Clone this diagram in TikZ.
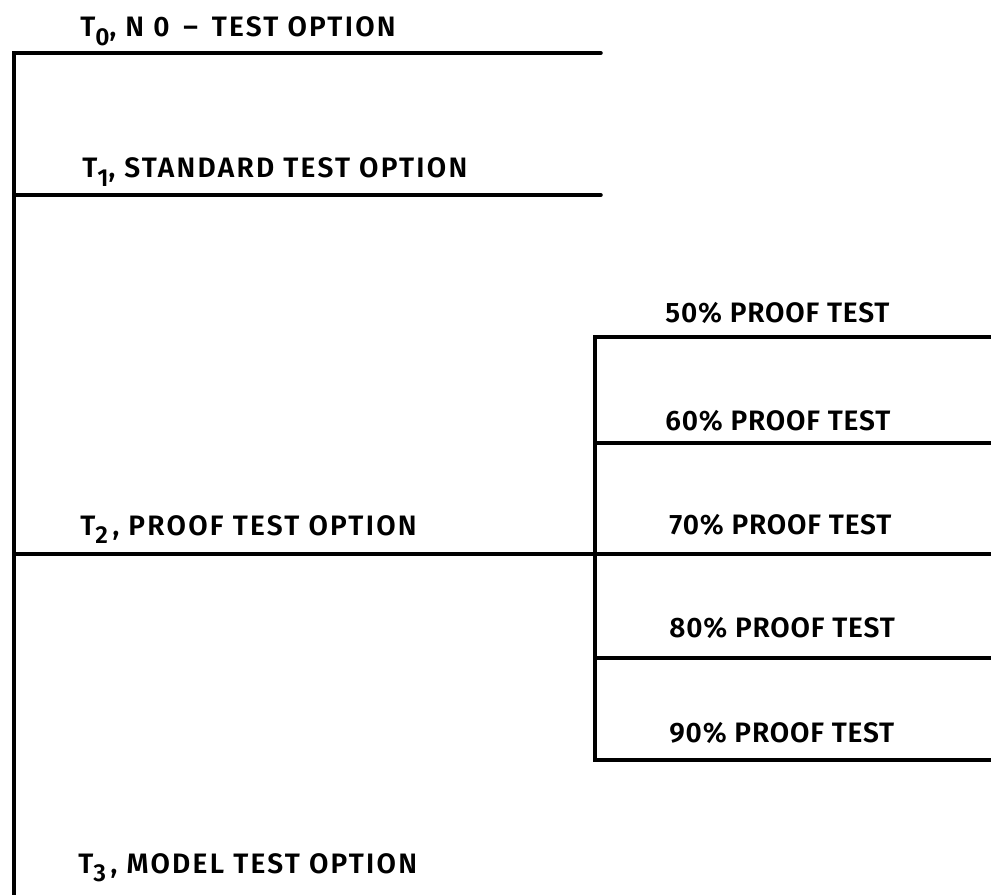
\documentclass[tikz,border=0pt]{standalone}
\usepackage{fontspec}
\setmainfont{Fira Sans}[BoldFont={Fira Sans SemiBold}]
\usetikzlibrary{positioning}

\newcommand{\Tsub}[1]{T\raisebox{-5pt}{\fontsize{14}{14}\selectfont #1}}

\begin{document}
\begin{tikzpicture}[x=0.02cm, y=-0.02cm, font=\fontsize{16}{18}\selectfont\bfseries,
  rule/.style={line width=2pt, line cap=round},
  optlabel/.style={anchor=base west, inner sep=0pt, font=\fontsize{16}{18}\selectfont\bfseries\addfontfeature{LetterSpace=8}},
  prooflabel/.style={anchor=base west, inner sep=0pt, font=\fontsize{16}{18}\selectfont\bfseries\addfontfeature{LetterSpace=3}}]

\useasboundingbox (0,0) rectangle (991,895);

% option spine
\path
(14,53) coordinate (spine-top)
(14,895) coordinate (spine-bot)
(601,53) coordinate (T0-R)
(601,195) coordinate (T1-R)
(14,195) coordinate (T1-L)
(14,554) coordinate (T2-L)
(991,554) coordinate (T2-R)
;
\draw[rule] (spine-bot) -- (spine-top) -- (T0-R);
\draw[rule] (T1-L) -- (T1-R);
\draw[rule] (T2-L) -- (T2-R);

% proof test sub-options
\path
(595,337) coordinate (P-top)
(595,760) coordinate (P-bot)
(991,337) coordinate (P50-R)
(991,760) coordinate (P90-R)
(595,443) coordinate (P60-L) (991,443) coordinate (P60-R)
(595,658) coordinate (P80-L) (991,658) coordinate (P80-R)
;
\draw[rule] (P50-R) -- (P-top) -- (P-bot) -- (P90-R);
\draw[rule] (P60-L) -- (P60-R);
\draw[rule] (P80-L) -- (P80-R);

% option labels
\node[optlabel] (T0) at (80,37) {\Tsub{0}, N 0 \,--\, TEST OPTION};
\node[optlabel] (T1) at (82,178) {\Tsub{1}, STANDARD TEST OPTION};
\node[optlabel] (T2) at (80,535) {\Tsub{2}\,, PROOF TEST OPTION};
\node[optlabel] (T3) at (78,873) {\Tsub{3}\,, MODEL TEST OPTION};

% proof test labels
\node[prooflabel] (P50) at (665,322) {50\% PROOF TEST};
\node[prooflabel] (P60) at (665,430) {60\% PROOF TEST};
\node[prooflabel] (P70) at (669,534) {70\% PROOF TEST};
\node[prooflabel] (P80) at (669,637) {80\% PROOF TEST};
\node[prooflabel] (P90) at (669,742) {90\% PROOF TEST};

\end{tikzpicture}
\end{document}
